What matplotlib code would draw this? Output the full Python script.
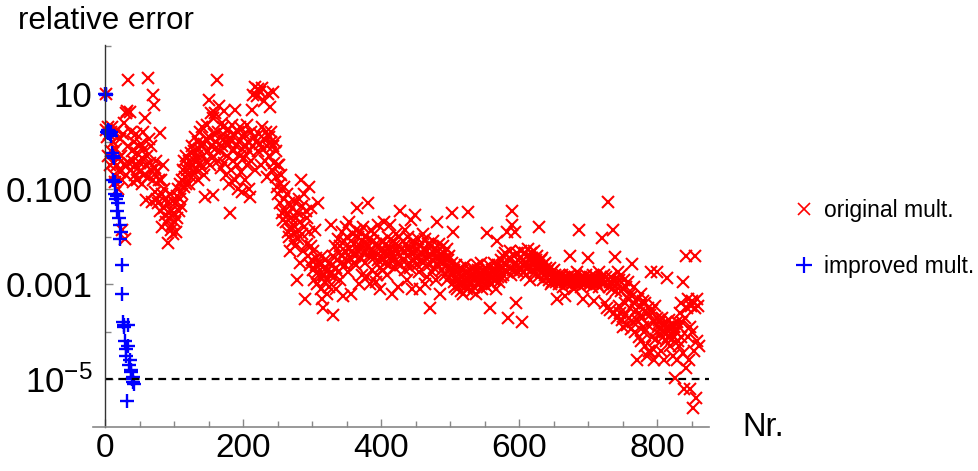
import numpy as np
import matplotlib
matplotlib.use("Agg")
import matplotlib.pyplot as plt
from matplotlib.lines import Line2D
from matplotlib.ticker import FixedLocator, NullFormatter

plt.rcParams["font.family"] = ["Liberation Sans", "DejaVu Sans"]
plt.rcParams["mathtext.fontset"] = "custom"
plt.rcParams["mathtext.rm"] = "Liberation Sans"
plt.rcParams["mathtext.it"] = "Liberation Sans"

# ---- data: log10 of relative error ----------------------------------------
# original multiplication, Nr. 1..860 (one list per hundred)
orig_001 = [1.0, 0.25, 0.1, 0.3, -0.3, 0.15, -0.5, 0.2, -0.2, 0.3,
            -0.45, 0.0, -0.7, 0.2, -0.85, -0.15, -0.5, 0.25, -1.0, -0.35,
            0.05, -0.65, -0.3, -0.8, -1.85, 0.15, -0.5, 0.4, -2.05, -0.7,
            0.6, 0.65, 1.3, -0.1, -0.45, 0.62, 0.2, -0.6, -0.2, -0.85,
            -0.4, 0.0, -0.7, -0.5, 0.15, -0.25, -0.8, -0.55, -0.1, -0.45,
            -0.65, -0.05, -0.9, -0.35, 0.2, -0.7, -0.15, 0.5, -1.23, -0.5,
            -0.3, 1.33, -0.75, 0.05, -0.45, -0.6, -0.1, -1.28, -0.8, 0.98,
            0.77, -0.55, -1.05, -0.4, -1.2, -0.65, -1.3, -0.8, -1.45, 0.18,
            -0.8, -1.1, -1.8, -0.5, -1.4, -1.0, -1.55, -1.2, -1.7, -1.3,
            -2.14, -1.5, -1.6, -1.1, -1.85, -1.45, -1.75, -1.25, -1.95, -1.5]
orig_101 = [-1.7, -1.3, -1.9, -1.15, -1.6, -1.0, -1.45, -1.2, -0.9, -1.35,
            -0.8, -1.1, -0.6, -0.95, -0.4, -0.75, -0.9, -0.3, -0.6, -0.5,
            -0.4, -0.9, -0.55, -0.25, -0.75, -0.1, -0.5, -0.65, -0.2, -0.4,
            0.1, -0.6, -0.3, 0.0, -0.8, -0.15, 0.2, -0.45, -0.1, -0.55,
            0.3, -0.3, -0.05, -0.7, -1.17, 0.05, -0.4, 0.35, -0.2, 0.87,
            0.1, -0.5, 0.6, -0.1, -0.35, 0.5, -1.13, 0.15, -0.15, 0.6,
            0.0, 1.3, -0.4, 0.2, 0.75, -0.2, 0.1, -0.55, 0.4, -0.1,
            0.3, -0.45, 0.65, 0.0, -0.7, 0.1, -0.3, 0.25, -0.9, -0.05,
            -1.5, 0.05, -0.6, 0.35, -0.2, -0.4, 0.15, 0.66, -0.8, -0.1,
            -0.5, 0.2, -1.0, 0.0, -0.3, 0.3, -0.65, -0.15, -1.05, 0.1]
orig_201 = [-0.35, 0.15, -0.8, -0.1, 0.35, -0.5, 0.0, -1.0, -0.2, -1.17,
            0.2, -0.4, 0.66, 0.98, -0.1, 0.1, 1.15, -0.6, 0.0, 0.95,
            1.1, -0.2, 0.15, 1.05, -0.05, -0.5, 0.3, 1.12, -0.15, 0.05,
            0.85, -0.4, 0.2, -0.1, -0.75, 1.0, 0.1, -0.3, 0.72, 0.0,
            0.2, -0.6, -0.1, 1.05, -0.45, 0.0, -0.75, -0.2, -0.95, -0.5,
            -1.1, -0.5, -0.9, -1.3, -0.7, -1.5, -1.0, -1.65, -1.2, -0.95,
            -1.45, -1.7, -1.1, -1.55, -1.9, -1.3, -2.0, -2.3, -1.6, -1.85,
            -1.4, -2.1, -1.75, -1.25, -2.2, -1.6, -1.9, -2.9, -1.5, -2.05,
            -1.2, -1.7, -2.55, -0.8, -1.95, -1.35, -2.3, -1.1, -1.8, -3.3,
            -1.45, -2.15, -1.6, -2.4, -0.95, -1.9, -2.6, -2.2, -1.4, -2.5]
orig_301 = [-2.7, -2.3, -2.9, -1.85, -2.6, -2.45, -3.0, -2.75, -1.3, -2.55,
            -2.85, -2.6, -3.1, -3.3, -2.4, -3.5, -2.8, -2.95, -2.5, -2.65,
            -2.9, -3.2, -2.7, -2.55, -3.05, -2.8, -1.75, -2.75, -2.6, -3.65,
            -2.4, -2.85, -2.2, -2.65, -3.1, -2.5, -2.05, -2.75, -2.35, -2.9,
            -2.2, -2.55, -1.9, -2.4, -3.25, -2.1, -2.6, -2.3, -1.8, -2.5,
            -2.0, -2.75, -2.25, -1.7, -2.45, -2.1, -3.2, -2.3, -1.95, -2.55,
            -2.15, -2.4, -1.85, -2.6, -1.4, -2.3, -2.0, -3.0, -2.2, -1.9,
            -2.45, -2.1, -2.8, -1.8, -2.35, -2.55, -2.0, -2.25, -2.85, -2.15,
            -1.3, -2.4, -2.05, -3.0, -1.85, -2.3, -2.7, -2.1, -2.45, -1.95,
            -2.35, -2.95, -2.15, -2.8, -1.75, -2.5, -2.2, -2.65, -3.1, -2.3]
orig_401 = [-2.1, -2.45, -2.7, -1.7, -2.3, -2.55, -2.15, -2.8, -2.4, -2.0,
            -2.6, -2.25, -1.75, -2.5, -2.35, -3.2, -2.1, -2.45, -2.2, -2.65,
            -2.3, -1.95, -2.55, -2.2, -3.05, -2.0, -2.4, -1.45, -2.6, -2.25,
            -2.1, -2.5, -2.3, -1.85, -2.7, -2.15, -2.9, -2.4, -2.0, -2.55,
            -2.25, -2.65, -1.65, -2.35, -3.1, -2.1, -2.5, -2.2, -1.55, -2.45,
            -2.3, -2.6, -2.05, -2.4, -2.75, -3.1, -2.2, -2.5, -2.35, -1.95,
            -2.55, -2.25, -3.0, -2.05, -2.45, -2.3, -2.85, -2.15, -2.6, -2.4,
            -3.5, -2.2, -2.5, -2.75, -2.1, -2.35, -2.65, -2.25, -2.9, -2.45,
            -1.7, -2.3, -2.6, -2.15, -2.5, -3.2, -2.4, -2.7, -2.2, -2.55,
            -2.35, -2.8, -2.45, -2.6, -2.25, -2.9, -2.5, -2.7, -2.4, -2.65]
orig_501 = [-2.8, -2.55, -1.5, -1.9, -2.95, -2.7, -3.05, -2.85, -2.6, -3.1,
            -2.9, -2.75, -3.0, -2.65, -3.15, -2.85, -2.95, -2.7, -3.2, -2.8,
            -3.0, -2.6, -2.9, -2.75, -3.1, -1.48, -2.85, -3.0, -2.7, -2.95,
            -2.8, -3.15, -2.65, -2.9, -3.05, -2.75, -2.85, -3.2, -2.6, -2.95,
            -2.7, -3.0, -2.8, -2.55, -2.9, -3.1, -2.75, -2.85, -3.0, -2.65,
            -2.9, -2.75, -1.93, -3.05, -2.8, -2.95, -2.6, -3.5, -2.85, -2.7,
            -3.0, -2.75, -2.9, -2.55, -2.8, -3.1, -2.7, -2.1, -2.85, -2.6,
            -2.95, -2.7, -2.5, -2.85, -2.65, -2.4, -2.8, -2.55, -2.7, -2.35,
            -2.6, -1.9, -2.75, -3.7, -2.45, -2.65, -2.3, -2.8, -1.75, -1.45,
            -2.7, -2.4, -2.6, -1.9, -2.55, -3.4, -2.35, -2.75, -2.5, -2.65]
orig_601 = [-2.45, -2.7, -2.3, -3.8, -2.6, -2.5, -2.75, -2.35, -2.55, -2.8,
            -2.4, -2.65, -2.25, -2.6, -2.5, -2.9, -2.35, -2.7, -2.45, -2.6,
            -2.55, -2.3, -2.75, -2.5, -2.65, -2.4, -2.85, -1.8, -2.6, -2.7,
            -2.5, -2.75, -2.45, -2.9, -2.6, -2.7, -2.55, -2.8, -2.65, -2.75,
            -2.85, -2.7, -2.9, -2.65, -2.8, -3.0, -2.75, -2.95, -2.85, -2.7,
            -2.9, -2.8, -2.95, -2.85, -3.3, -2.9, -2.8, -3.0, -2.85, -2.95,
            -2.9, -2.8, -3.05, -2.9, -2.85, -2.95, -3.25, -2.9, -2.85, -3.0,
            -2.9, -2.95, -2.8, -2.4, -2.9, -3.0, -2.85, -2.95, -2.9, -3.1,
            -2.85, -2.95, -2.9, -2.75, -3.0, -1.85, -2.9, -2.95, -2.85, -3.05,
            -2.9, -2.95, -3.3, -2.85, -2.9, -3.0, -2.8, -2.95, -2.9, -2.45]
orig_701 = [-2.9, -3.0, -2.85, -2.95, -2.9, -3.05, -2.8, -2.95, -3.35, -2.9,
            -2.95, -2.85, -3.0, -2.9, -2.75, -3.05, -2.9, -2.95, -2.85, -2.03,
            -2.9, -3.0, -2.8, -3.4, -2.95, -2.85, -3.5, -2.9, -1.27, -3.05,
            -2.95, -3.55, -2.85, -3.1, -3.0, -1.86, -3.6, -2.9, -2.43, -3.15,
            -3.0, -3.7, -2.75, -3.45, -2.9, -3.6, -3.15, -2.8, -3.75, -3.1,
            -3.9, -2.9, -3.4, -3.65, -3.05, -3.85, -3.3, -2.95, -3.7, -3.2,
            -3.5, -3.95, -2.57, -3.25, -3.8, -3.4, -3.05, -4.0, -3.55, -3.75,
            -4.6, -3.3, -3.6, -4.1, -3.45, -3.2, -4.2, -3.7, -3.35, -3.9,
            -4.0, -3.4, -4.3, -3.6, -4.5, -3.5, -3.85, -4.4, -3.65, -4.45,
            -2.75, -4.1, -3.55, -4.35, -3.8, -4.6, -3.45, -4.15, -3.7, -2.75]
orig_801 = [-3.9, -3.75, -4.05, -3.8, -4.4, -3.95, -3.7, -4.1, -3.85, -4.6,
            -4.0, -3.8, -4.2, -2.87, -3.9, -4.1, -3.75, -4.3, -3.95, -4.05,
            -3.85, -4.15, -4.5, -3.9, -4.1, -4.98, -4.0, -3.8, -4.6, -4.2,
            -3.9, -4.3, -3.6, -4.1, -3.4, -3.8, -4.45, -2.95, -5.2, -3.7,
            -2.4, -4.75, -3.5, -4.1, -3.3, -4.6, -3.9, -5.2, -3.45, -4.0,
            -3.35, -5.6, -4.4, -3.5, -2.4, -5.4, -3.3, -4.2, -3.45, -4.3]

# improved multiplication, Nr. 0..42
improved = [1.0, 1.0, 0.98, 0.2, 0.25, 0.18, 0.22, 0.15, 0.2, 0.12,
            -0.25, -0.8, -0.3, -0.35, -0.85, -1.1, -1.2, -1.15, -1.45, -1.3,
            -1.6, -1.75, -2.05, -1.9, -2.6, -3.2, -3.8, -3.85, -3.9, -4.2,
            -4.35, -4.5, -5.45, -4.3, -3.85, -4.7, -4.6, -4.8, -4.85, -5.0,
            -5.05, -4.95, -5.1]

THRESHOLD = 1e-5
X_MAX = 875
Y_MIN, Y_MAX = 1e-6, 10 ** 2.03

orig = np.concatenate([orig_001, orig_101, orig_201, orig_301, orig_401,
                       orig_501, orig_601, orig_701, orig_801])
nr_orig = np.arange(1, len(orig) + 1)
nr_imp = np.arange(0, len(improved))

# ---- figure -----------------------------------------------------------------
fig = plt.figure(figsize=(9.79, 4.71), dpi=100)
ax = fig.add_axes([93 / 979, 44 / 471, (709 - 93) / 979, (427 - 45) / 471])

RED, BLUE = "#ff0000", "#0000ff"
ax.plot(nr_orig, 10 ** orig, ls="none", marker="x", ms=9, mew=1.5,
        color=RED, clip_on=False)
ax.plot(nr_imp, 10 ** np.array(improved), ls="none", marker="+", ms=10.5,
        mew=1.7, color=BLUE, clip_on=False)
ax.hlines(THRESHOLD, 0, X_MAX, colors="black", linestyles=(0, (3.5, 2.5)),
          lw=1.6)

ax.set_yscale("log")
ax.set_xlim(-17.4, X_MAX)
ax.set_ylim(Y_MIN, Y_MAX)

for s in ("top", "right"):
    ax.spines[s].set_visible(False)
ax.spines["left"].set_position(("data", 0))
ax.spines["left"].set_color("#333333")
ax.spines["bottom"].set_color("#888888")
ax.spines["left"].set_linewidth(1.0)
ax.spines["bottom"].set_linewidth(1.2)

ax.xaxis.set_major_locator(FixedLocator([0, 200, 400, 600, 800]))
ax.xaxis.set_minor_locator(FixedLocator([50, 100, 150, 250, 300, 350, 450,
                                         500, 550, 650, 700, 750, 850]))
ax.yaxis.set_major_locator(FixedLocator([1e1, 1e-1, 1e-3, 1e-5]))
ax.yaxis.set_minor_locator(FixedLocator([1e2, 1e0, 1e-2, 1e-4]))
ax.yaxis.set_minor_formatter(NullFormatter())
ax.set_yticklabels(["10", "0.100", "0.001", r"$10^{-5}$"])
ax.set_xticklabels(["0", "200", "400", "600", "800"])

ax.tick_params(which="both", direction="in", color="#888888", width=1.0,
               labelcolor="black")
ax.tick_params(which="major", length=6)
ax.tick_params(which="minor", length=4)
ax.tick_params(axis="y", pad=9, labelsize=25)
ax.tick_params(axis="x", pad=4, labelsize=24)

fig.text(18 / 979, 1 - 21 / 471, "relative error", fontsize=22.5,
         va="center", ha="left")
fig.text(742 / 979, 1 - 427 / 471, "Nr.", fontsize=23.5,
         va="center", ha="left")

handles = [Line2D([], [], ls="none", marker="x", ms=8, mew=1.2, color=RED),
           Line2D([], [], ls="none", marker="+", ms=11, mew=1.6, color=BLUE)]
fig.legend(handles, ["original mult.", "improved mult."], loc="upper left",
           bbox_to_anchor=(783 / 979, 1 - 190 / 471), frameon=False,
           fontsize=16.5, handlelength=1.0, handletextpad=0.4,
           labelspacing=1.45, borderaxespad=0)

fig.savefig("out.png", dpi=100)
